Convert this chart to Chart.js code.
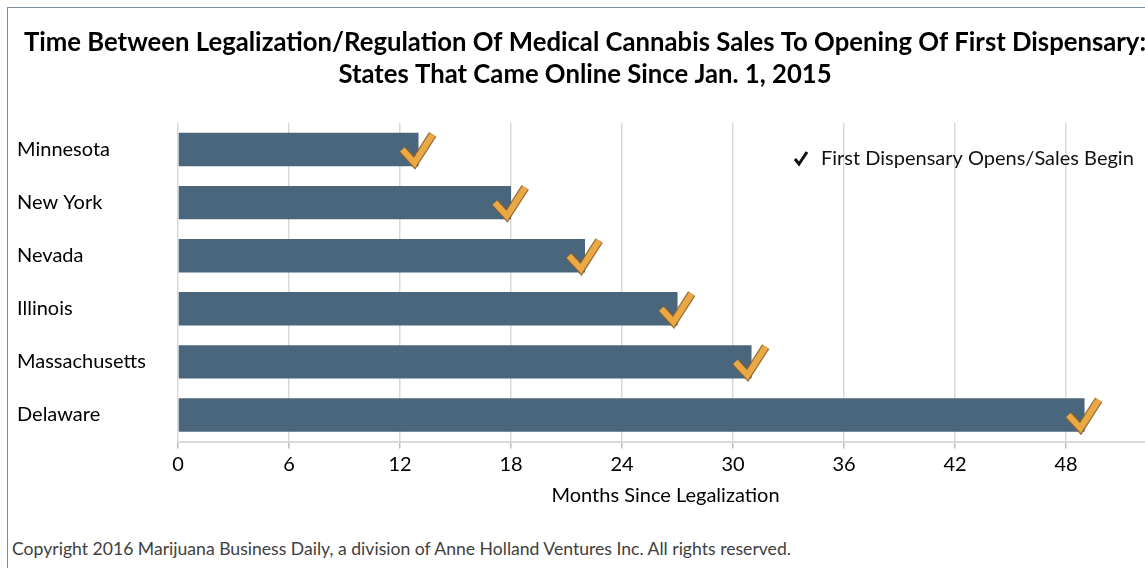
<!DOCTYPE html>
<html>
<head>
<meta charset="utf-8">
<script src="https://cdn.jsdelivr.net/npm/chart.js@4.4.1/dist/chart.umd.min.js"></script>
<style>
  html, body { margin: 0; padding: 0; background: #fff; overflow: hidden; }
  #frame {
    position: absolute; left: 7px; top: 7px;
    width: 1145px; height: 600px;
    border: 1px solid #7d90a2;
  }
  #chart-box { position: absolute; left: 0; top: 0; width: 1145px; height: 520px; }
  #copyright {
    position: absolute; left: 4px; top: 530px;
    font-family: Lato, sans-serif; font-size: 17.6px; color: #404040;
    white-space: nowrap;
  }
</style>
</head>
<body>
<div id="frame">
  <div id="chart-box"><canvas id="dispensary-chart"></canvas></div>
  <div id="copyright"></div>
</div>
<script>
const title_lines = [
  "Time Between Legalization/Regulation Of Medical Cannabis Sales To Opening Of First Dispensary:",
  "States That Came Online Since Jan. 1, 2015"
];
const states = ["Minnesota", "New York", "Nevada", "Illinois", "Massachusetts", "Delaware"];
const months_to_open = [13, 18, 22, 27, 31, 49];
const x_axis_label = "Months Since Legalization";
const legend_label = "First Dispensary Opens/Sales Begin";
const copyright_text = "Copyright 2016 Marijuana Business Daily, a division of Anne Holland Ventures Inc. All rights reserved.";

const bar_colour = "#4a667d";
const check_colour = "#eaa945";
const font_family = "Lato, 'Open Sans', sans-serif";

document.getElementById("copyright").textContent = copyright_text;

// tick drawn at the right end of every bar
function drawCheck(ctx, x, y, s) {
  ctx.save();
  ctx.lineJoin = "miter";
  ctx.beginPath();
  ctx.moveTo(x - 16 * s, y);
  ctx.lineTo(x - 4 * s, y + 13 * s);
  ctx.lineTo(x + 14 * s, y - 15 * s);
  ctx.strokeStyle = "rgba(140, 95, 35, 0.9)";
  ctx.lineWidth = 8.5 * s;
  ctx.stroke();
  ctx.strokeStyle = check_colour;
  ctx.lineWidth = 6 * s;
  ctx.stroke();
  ctx.restore();
}

const checkMarks = {
  id: "checkMarks",
  afterDatasetsDraw(chart) {
    const ctx = chart.ctx;
    const meta = chart.getDatasetMeta(0);
    meta.data.forEach(bar => {
      drawCheck(ctx, bar.x, bar.y, bar.height / 33);
    });

    // legend: small black tick + label, top right inside the plot
    const lx = chart.chartArea.left + 623;
    const ly = chart.chartArea.top + 36;
    ctx.save();
    ctx.beginPath();
    ctx.moveTo(lx - 6, ly);
    ctx.lineTo(lx - 2, ly + 5);
    ctx.lineTo(lx + 6, ly - 7);
    ctx.strokeStyle = "#111";
    ctx.lineWidth = 3;
    ctx.stroke();
    ctx.fillStyle = "#111";
    ctx.font = "20px " + font_family;
    ctx.textBaseline = "middle";
    ctx.textAlign = "left";
    ctx.fillText(legend_label, lx + 20, ly);
    ctx.restore();
  }
};

const config_bar = {
  type: "bar",
  data: {
    labels: states,
    datasets: [{
      label: legend_label,
      data: months_to_open,
      backgroundColor: bar_colour,
      borderWidth: 0,
      barPercentage: 0.63,
      categoryPercentage: 1
    }]
  },
  options: {
    indexAxis: "y",
    responsive: true,
    maintainAspectRatio: false,
    animation: false,
    layout: { padding: { left: 9, right: 0, top: 0, bottom: 0 } },
    plugins: {
      legend: { display: false },
      tooltip: { enabled: false },
      title: {
        display: true,
        text: title_lines,
        color: "#000",
        font: { family: font_family, size: 25.7, weight: "bold", lineHeight: 1.245 },
        padding: { top: 19, bottom: 32 }
      }
    },
    scales: {
      x: {
        type: "linear",
        min: 0,
        max: 52.7,
        grid: {
          color: "#d9d9d9",
          lineWidth: 1.5,
          tickColor: "#bdbdbd",
          tickLength: 7
        },
        border: { color: "#d9d9d9", width: 2 },
        ticks: {
          stepSize: 6,
          includeBounds: false,
          color: "#000",
          padding: 4,
          font: { family: font_family, size: 20 }
        },
        title: {
          display: true,
          text: x_axis_label,
          color: "#000",
          font: { family: font_family, size: 20 },
          padding: { top: 3.5, bottom: 20 }
        }
      },
      y: {
        grid: { display: false },
        border: { display: false },
        afterFit: (scale) => { scale.width = 161; },
        ticks: {
          crossAlign: "far",
          color: "#000",
          font: { family: font_family, size: 20 }
        }
      }
    }
  },
  plugins: [checkMarks]
};

const ctx_bar = document.getElementById("dispensary-chart").getContext("2d");
new Chart(ctx_bar, config_bar);
</script>
</body>
</html>
